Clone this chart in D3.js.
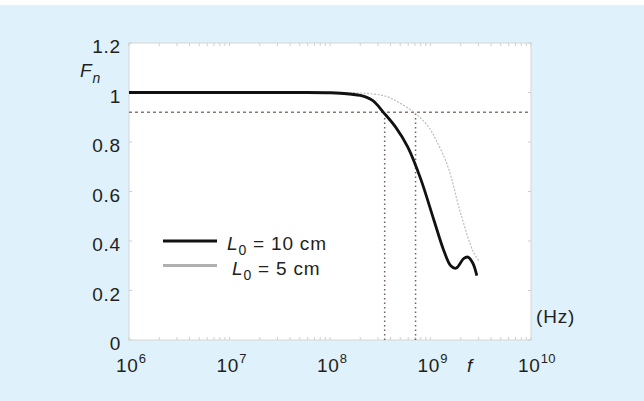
<!DOCTYPE html>
<html>
<head>
<meta charset="utf-8">
<script src="https://cdn.jsdelivr.net/npm/d3@7"></script>
<style>
  body { margin: 0; background: #fff; }
  text { font-family: "Liberation Sans", Arial, sans-serif; fill: #231f20; letter-spacing: 0.8px; }
</style>
</head>
<body>
<svg></svg>
<script>
// data
let freqL10 = [1e6, 1e7, 5e7, 1e8, 1.27e8, 2.0e8, 2.65e8, 3.4e8, 4.5e8, 5.93e8, 8.0e8, 1.08e9, 1.36e9, 1.59e9, 1.79e9, 2.15e9, 2.36e9, 2.64e9, 2.89e9]
let fnL10   = [1, 1, 1, 0.999, 0.997, 0.988, 0.968, 0.92, 0.86, 0.78, 0.65, 0.485, 0.36, 0.30, 0.29, 0.33, 0.335, 0.31, 0.26]

let freqL5 = [1e6, 1e7, 1e8, 2.0e8, 3.58e8, 5.05e8, 7.1e8, 9.4e8, 1.13e9, 1.49e9, 2.0e9, 2.64e9, 3.03e9]
let fnL5   = [1, 1, 1, 0.998, 0.985, 0.955, 0.915, 0.865, 0.81, 0.70, 0.51, 0.36, 0.32]

let refLevel = 0.92
let cutoffs = [3.5e8, 7.1e8]

let yTicks = [0, 0.2, 0.4, 0.6, 0.8, 1, 1.2]
let xTicks = [1e6, 1e7, 1e8, 1e9, 1e10]
let xTickExp = ['6', '7', '8', '9', '10']

let width = 644
let height = 401
let plotLeft = 129, plotRight = 531, plotTop = 43, plotBottom = 340

let svg = d3.select('svg').attr('width', width).attr('height', height)

// light blue panel
svg.append('rect')
  .attr('x', 0).attr('y', 5)
  .attr('width', width).attr('height', height - 5)
  .attr('fill', '#dff1fa')

let xScale = d3.scaleLog().domain([1e6, 1e10]).range([plotLeft, plotRight])
let yScale = d3.scaleLinear().domain([0, 1.2]).range([plotBottom, plotTop])

// plot area
svg.append('rect')
  .attr('x', plotLeft).attr('y', plotTop)
  .attr('width', plotRight - plotLeft).attr('height', plotBottom - plotTop)
  .attr('fill', '#fff')
  .attr('stroke', '#d6d6d6')
  .attr('stroke-width', 1)

// faint minor ticks along the frame
let minor = []
for (let e = 6; e < 10; e++) {
  for (let m = 2; m <= 9; m++) minor.push(m * Math.pow(10, e))
}
let frame = svg.append('g').attr('stroke', '#cfcfcf').attr('stroke-width', 1)
frame.selectAll('.mb').data(minor.concat(xTicks)).enter().append('line')
  .attr('x1', d => xScale(d)).attr('x2', d => xScale(d))
  .attr('y1', plotBottom).attr('y2', plotBottom - 3)
frame.selectAll('.mt').data(minor.concat(xTicks)).enter().append('line')
  .attr('x1', d => xScale(d)).attr('x2', d => xScale(d))
  .attr('y1', plotTop).attr('y2', plotTop + 3)
frame.selectAll('.yr').data(yTicks).enter().append('line')
  .attr('x1', plotRight).attr('x2', plotRight - 3)
  .attr('y1', d => yScale(d)).attr('y2', d => yScale(d))
frame.selectAll('.yl').data(yTicks).enter().append('line')
  .attr('x1', plotLeft).attr('x2', plotLeft + 3)
  .attr('y1', d => yScale(d)).attr('y2', d => yScale(d))

// reference lines
svg.append('line')
  .attr('x1', xScale(1e6)).attr('x2', xScale(1e10))
  .attr('y1', yScale(refLevel)).attr('y2', yScale(refLevel))
  .attr('stroke', '#857b76').attr('stroke-width', 1.4)
  .attr('stroke-dasharray', '3,3')

svg.selectAll('.cut').data(cutoffs).enter().append('line')
  .attr('x1', d => xScale(d)).attr('x2', d => xScale(d))
  .attr('y1', yScale(0)).attr('y2', yScale(refLevel))
  .attr('stroke', '#6e6561').attr('stroke-width', 1.5)
  .attr('stroke-dasharray', '1.5,3')

// curves
let line = d3.line()
  .x(d => xScale(d[0]))
  .y(d => yScale(d[1]))
  .curve(d3.curveCatmullRom.alpha(0.5))

svg.append('path')
  .datum(d3.zip(freqL5, fnL5))
  .attr('d', line)
  .attr('fill', 'none')
  .attr('stroke', '#bdbdbd')
  .attr('stroke-width', 1.2)
  .attr('stroke-dasharray', '2,1.5')

svg.append('path')
  .datum(d3.zip(freqL10, fnL10))
  .attr('d', line)
  .attr('fill', 'none')
  .attr('stroke', '#111')
  .attr('stroke-width', 2.8)

// y tick labels
svg.selectAll('.ylab').data(yTicks).enter().append('text')
  .attr('x', 121)
  .attr('y', d => yScale(d) + 10)
  .attr('text-anchor', 'end')
  .style('font-size', '19px')
  .text(d => d)

// x tick labels with exponents
let xl = svg.selectAll('.xlab').data(xTicks).enter().append('text')
  .attr('x', (d, i) => xScale(d) - 13)
  .attr('y', 372)
  .style('font-size', '19px')
xl.append('tspan').text('10')
xl.append('tspan').attr('dy', -9).style('font-size', '13px').style('letter-spacing', '0.3px')
  .text((d, i) => xTickExp[i])

// axis names
let fn = svg.append('text').attr('x', 80).attr('y', 77).style('font-size', '19px')
fn.append('tspan').style('font-style', 'italic').text('F')
fn.append('tspan').attr('dy', 6).style('font-style', 'italic').style('font-size', '14px').text('n')

svg.append('text').attr('x', 536).attr('y', 323).style('font-size', '19px').text('(Hz)')
svg.append('text').attr('x', 467).attr('y', 372).style('font-size', '19px')
  .style('font-style', 'italic').text('f')

// legend
let legendItems = [
  { label: '10 cm', color: '#111', w: 3, tx: 227 },
  { label: '5 cm', color: '#b0b0b0', w: 3, tx: 232 }
]
let legend = svg.selectAll('.leg').data(legendItems).enter().append('g')
  .attr('transform', (d, i) => `translate(0,${241 + i * 24.5})`)
legend.append('line')
  .attr('x1', 163).attr('x2', 217).attr('y1', 0).attr('y2', 0)
  .attr('stroke', d => d.color).attr('stroke-width', d => d.w)
let lt = legend.append('text').attr('x', d => d.tx).attr('y', 9).style('font-size', '19px')
lt.append('tspan').style('font-style', 'italic').text('L')
lt.append('tspan').attr('dy', 5).style('font-size', '14px').text('0')
lt.append('tspan').attr('dy', -5).text(d => ' = ' + d.label)
</script>
</body>
</html>
